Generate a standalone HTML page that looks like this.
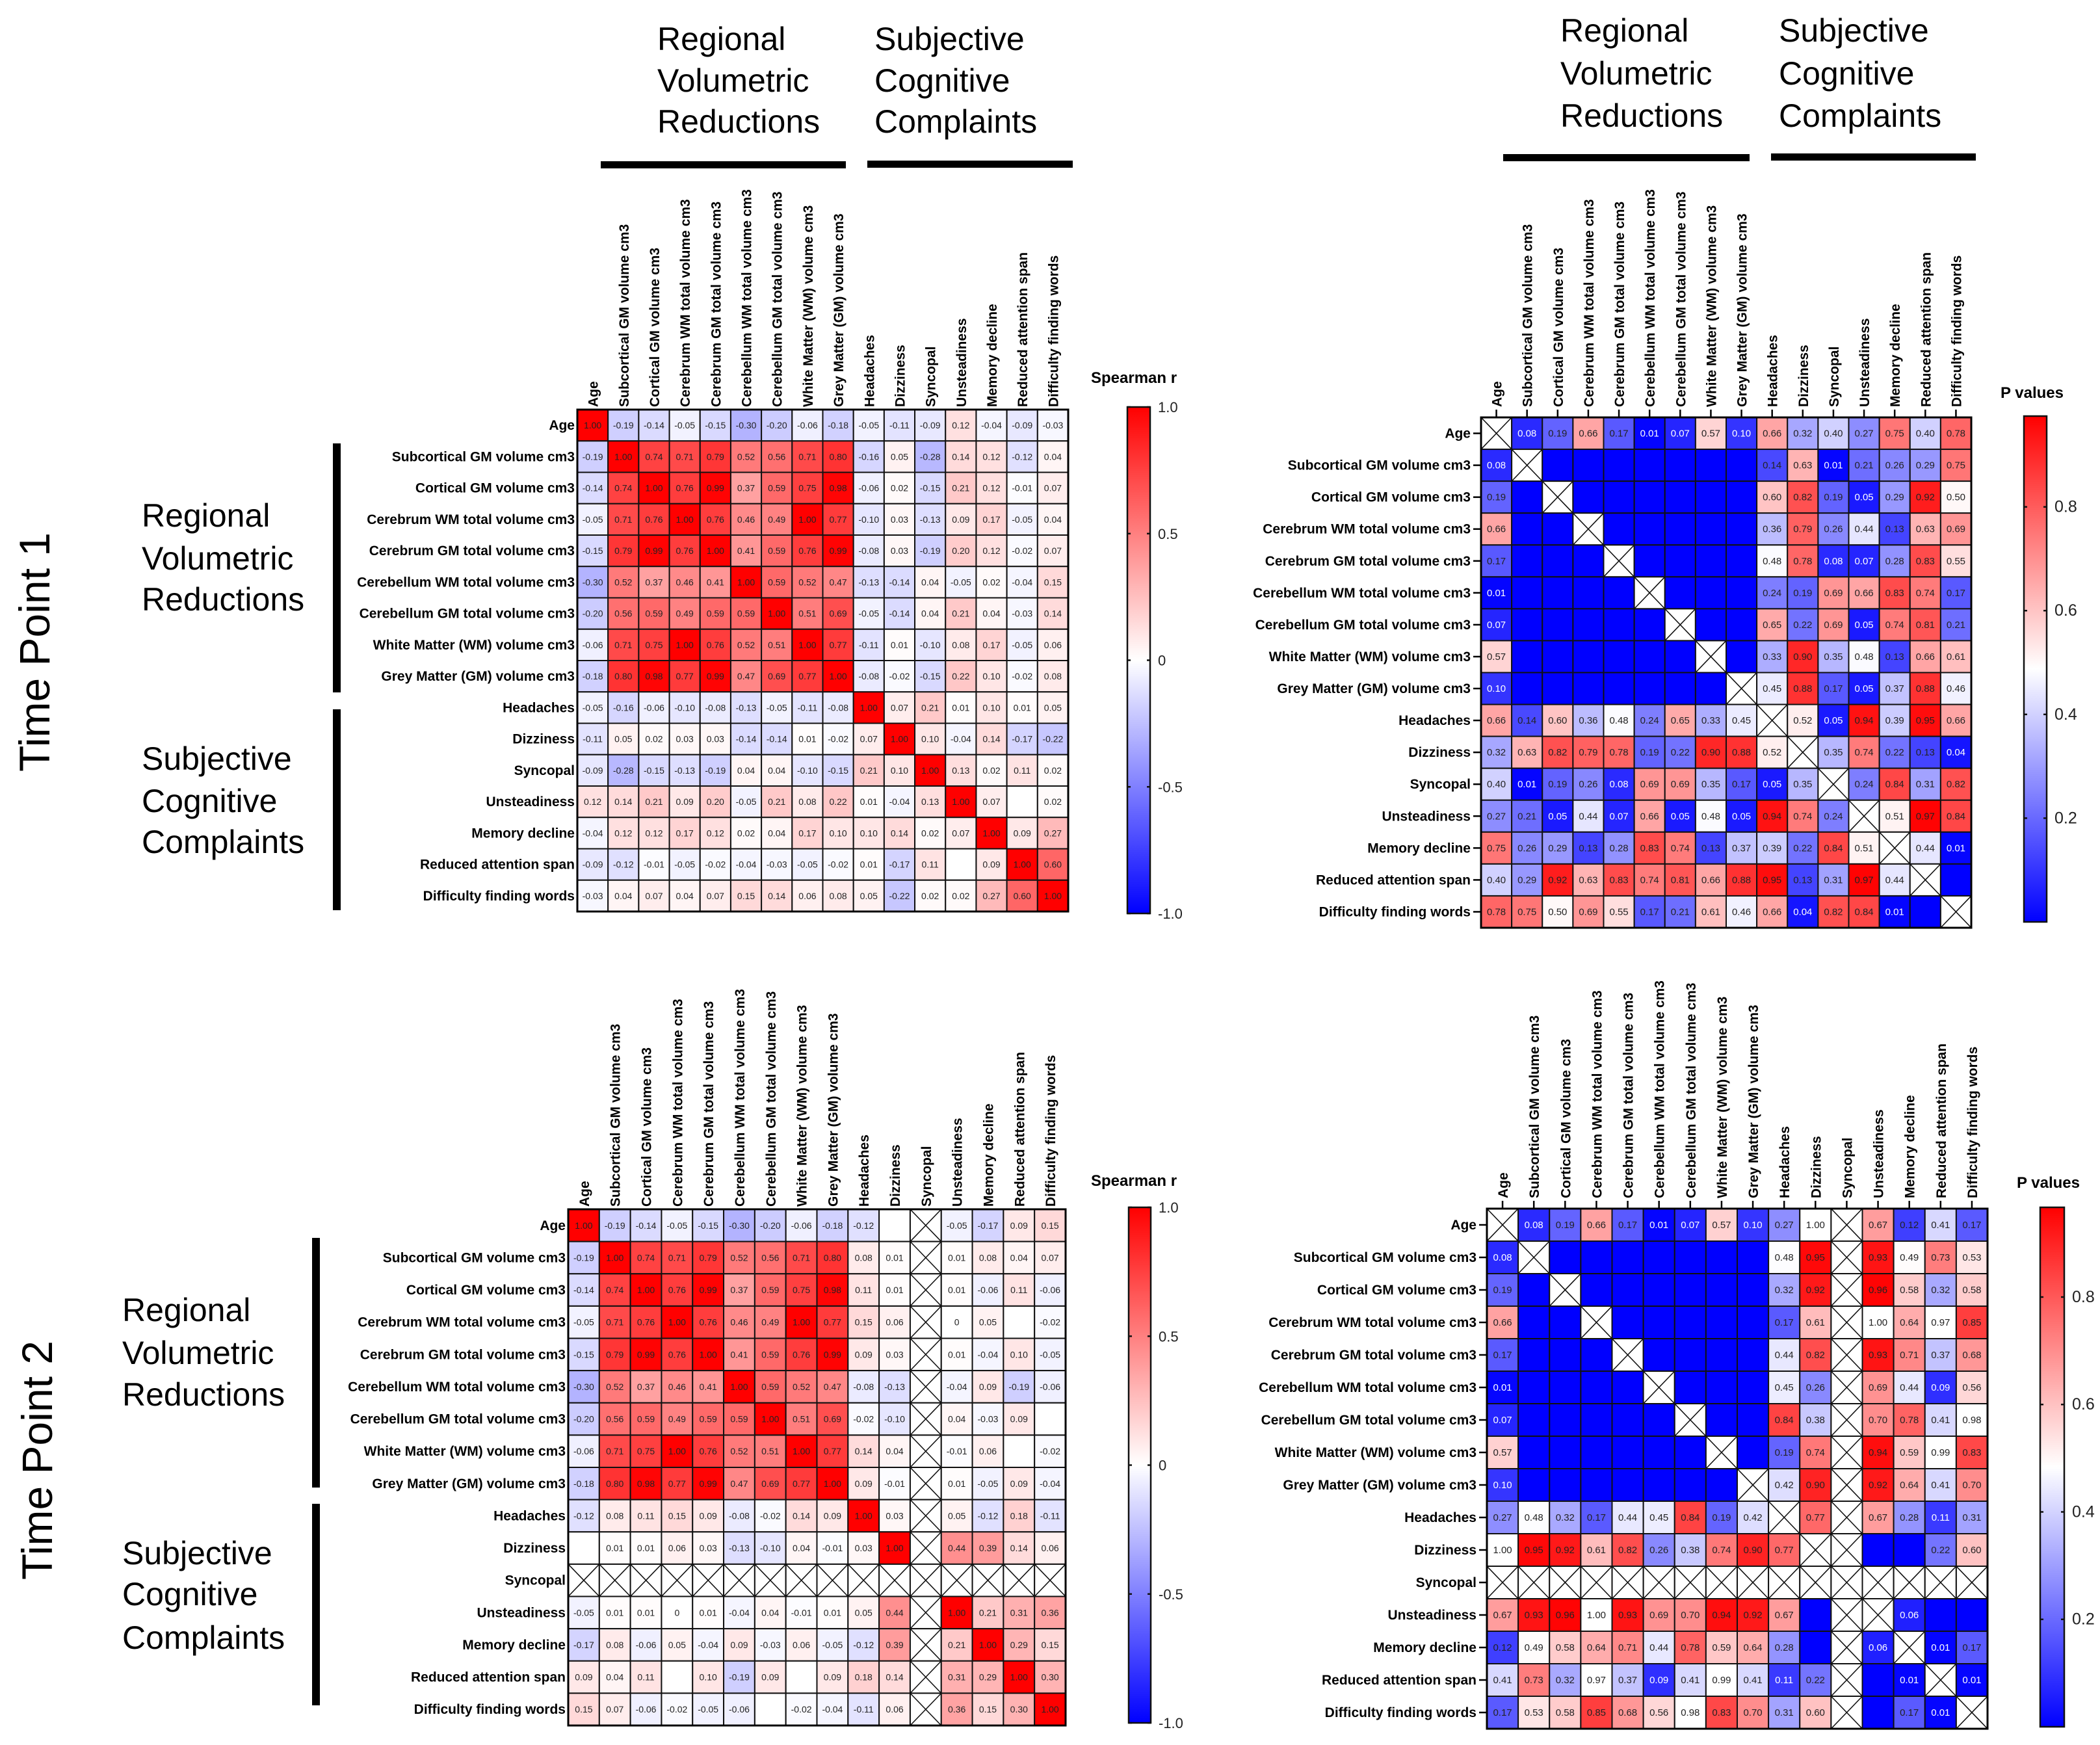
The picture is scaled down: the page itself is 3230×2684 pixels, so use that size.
<!DOCTYPE html>
<html><head><meta charset="utf-8">
<style>
html,body{margin:0;padding:0;background:#fff;}
svg{display:block;}
text{font-family:"Liberation Sans",Arial,sans-serif;}
</style></head>
<body>
<svg id="fig" width="3230" height="2684" viewBox="0 0 3230 2684" xmlns="http://www.w3.org/2000/svg">
  <rect x="0" y="0" width="3230" height="2684" fill="#fff"/>
  <g font-size="50" fill="#000">
    <text x="1011" y="77">Regional</text><text x="1011" y="141">Volumetric</text><text x="1011" y="204">Reductions</text>
    <text x="1345" y="77">Subjective</text><text x="1345" y="141">Cognitive</text><text x="1345" y="204">Complaints</text>
    <rect x="924" y="248" width="377" height="11" fill="#000"/>
    <rect x="1334" y="247" width="316" height="11" fill="#000"/>
  </g>
  <g font-size="50" fill="#000">
    <text x="2400" y="64">Regional</text><text x="2400" y="130">Volumetric</text><text x="2400" y="195">Reductions</text>
    <text x="2736" y="64">Subjective</text><text x="2736" y="130">Cognitive</text><text x="2736" y="195">Complaints</text>
    <rect x="2312" y="237" width="379" height="11" fill="#000"/>
    <rect x="2724" y="236" width="315" height="11" fill="#000"/>
  </g>
  <text transform="translate(76,1003) rotate(-90)" text-anchor="middle" font-size="66">Time Point 1</text>
  <g font-size="50">
    <text x="218" y="810">Regional</text><text x="218" y="876">Volumetric</text><text x="218" y="939">Reductions</text>
    <text x="218" y="1184">Subjective</text><text x="218" y="1249">Cognitive</text><text x="218" y="1312">Complaints</text>
    <rect x="512" y="682" width="12" height="383" fill="#000"/>
    <rect x="512" y="1091" width="12" height="309" fill="#000"/>
  </g>
  <text transform="translate(80,2246) rotate(-90)" text-anchor="middle" font-size="66">Time Point 2</text>
  <g font-size="50">
    <text x="188" y="2032">Regional</text><text x="188" y="2098">Volumetric</text><text x="188" y="2162">Reductions</text>
    <text x="188" y="2406">Subjective</text><text x="188" y="2469">Cognitive</text><text x="188" y="2536">Complaints</text>
    <rect x="480" y="1904" width="12" height="384" fill="#000"/>
    <rect x="480" y="2313" width="12" height="310" fill="#000"/>
  </g>
  <g id="panels"></g>
</svg>
<script>
const labels = ["Age","Subcortical GM volume cm3","Cortical GM volume cm3","Cerebrum WM total volume cm3","Cerebrum GM total volume cm3","Cerebellum WM total volume cm3","Cerebellum GM total volume cm3","White Matter (WM) volume cm3","Grey Matter (GM) volume cm3","Headaches","Dizziness","Syncopal","Unsteadiness","Memory decline","Reduced attention span","Difficulty finding words"];

const tp1R = [
"1.00 -0.19 -0.14 -0.05 -0.15 -0.30 -0.20 -0.06 -0.18 -0.05 -0.11 -0.09 0.12 -0.04 -0.09 -0.03",
"-0.19 1.00 0.74 0.71 0.79 0.52 0.56 0.71 0.80 -0.16 0.05 -0.28 0.14 0.12 -0.12 0.04",
"-0.14 0.74 1.00 0.76 0.99 0.37 0.59 0.75 0.98 -0.06 0.02 -0.15 0.21 0.12 -0.01 0.07",
"-0.05 0.71 0.76 1.00 0.76 0.46 0.49 1.00 0.77 -0.10 0.03 -0.13 0.09 0.17 -0.05 0.04",
"-0.15 0.79 0.99 0.76 1.00 0.41 0.59 0.76 0.99 -0.08 0.03 -0.19 0.20 0.12 -0.02 0.07",
"-0.30 0.52 0.37 0.46 0.41 1.00 0.59 0.52 0.47 -0.13 -0.14 0.04 -0.05 0.02 -0.04 0.15",
"-0.20 0.56 0.59 0.49 0.59 0.59 1.00 0.51 0.69 -0.05 -0.14 0.04 0.21 0.04 -0.03 0.14",
"-0.06 0.71 0.75 1.00 0.76 0.52 0.51 1.00 0.77 -0.11 0.01 -0.10 0.08 0.17 -0.05 0.06",
"-0.18 0.80 0.98 0.77 0.99 0.47 0.69 0.77 1.00 -0.08 -0.02 -0.15 0.22 0.10 -0.02 0.08",
"-0.05 -0.16 -0.06 -0.10 -0.08 -0.13 -0.05 -0.11 -0.08 1.00 0.07 0.21 0.01 0.10 0.01 0.05",
"-0.11 0.05 0.02 0.03 0.03 -0.14 -0.14 0.01 -0.02 0.07 1.00 0.10 -0.04 0.14 -0.17 -0.22",
"-0.09 -0.28 -0.15 -0.13 -0.19 0.04 0.04 -0.10 -0.15 0.21 0.10 1.00 0.13 0.02 0.11 0.02",
"0.12 0.14 0.21 0.09 0.20 -0.05 0.21 0.08 0.22 0.01 -0.04 0.13 1.00 0.07 _ 0.02",
"-0.04 0.12 0.12 0.17 0.12 0.02 0.04 0.17 0.10 0.10 0.14 0.02 0.07 1.00 0.09 0.27",
"-0.09 -0.12 -0.01 -0.05 -0.02 -0.04 -0.03 -0.05 -0.02 0.01 -0.17 0.11 _ 0.09 1.00 0.60",
"-0.03 0.04 0.07 0.04 0.07 0.15 0.14 0.06 0.08 0.05 -0.22 0.02 0.02 0.27 0.60 1.00"];

const tp1P = [
"x 0.08 0.19 0.66 0.17 0.01 0.07 0.57 0.10 0.66 0.32 0.40 0.27 0.75 0.40 0.78",
"0.08 x _ _ _ _ _ _ _ 0.14 0.63 0.01 0.21 0.26 0.29 0.75",
"0.19 _ x _ _ _ _ _ _ 0.60 0.82 0.19 0.05 0.29 0.92 0.50",
"0.66 _ _ x _ _ _ _ _ 0.36 0.79 0.26 0.44 0.13 0.63 0.69",
"0.17 _ _ _ x _ _ _ _ 0.48 0.78 0.08 0.07 0.28 0.83 0.55",
"0.01 _ _ _ _ x _ _ _ 0.24 0.19 0.69 0.66 0.83 0.74 0.17",
"0.07 _ _ _ _ _ x _ _ 0.65 0.22 0.69 0.05 0.74 0.81 0.21",
"0.57 _ _ _ _ _ _ x _ 0.33 0.90 0.35 0.48 0.13 0.66 0.61",
"0.10 _ _ _ _ _ _ _ x 0.45 0.88 0.17 0.05 0.37 0.88 0.46",
"0.66 0.14 0.60 0.36 0.48 0.24 0.65 0.33 0.45 x 0.52 0.05 0.94 0.39 0.95 0.66",
"0.32 0.63 0.82 0.79 0.78 0.19 0.22 0.90 0.88 0.52 x 0.35 0.74 0.22 0.13 0.04",
"0.40 0.01 0.19 0.26 0.08 0.69 0.69 0.35 0.17 0.05 0.35 x 0.24 0.84 0.31 0.82",
"0.27 0.21 0.05 0.44 0.07 0.66 0.05 0.48 0.05 0.94 0.74 0.24 x 0.51 0.97 0.84",
"0.75 0.26 0.29 0.13 0.28 0.83 0.74 0.13 0.37 0.39 0.22 0.84 0.51 x 0.44 0.01",
"0.40 0.29 0.92 0.63 0.83 0.74 0.81 0.66 0.88 0.95 0.13 0.31 0.97 0.44 x _",
"0.78 0.75 0.50 0.69 0.55 0.17 0.21 0.61 0.46 0.66 0.04 0.82 0.84 0.01 _ x"];

const tp2R = [
"1.00 -0.19 -0.14 -0.05 -0.15 -0.30 -0.20 -0.06 -0.18 -0.12 _ x -0.05 -0.17 0.09 0.15",
"-0.19 1.00 0.74 0.71 0.79 0.52 0.56 0.71 0.80 0.08 0.01 x 0.01 0.08 0.04 0.07",
"-0.14 0.74 1.00 0.76 0.99 0.37 0.59 0.75 0.98 0.11 0.01 x 0.01 -0.06 0.11 -0.06",
"-0.05 0.71 0.76 1.00 0.76 0.46 0.49 1.00 0.77 0.15 0.06 x 0 0.05 _ -0.02",
"-0.15 0.79 0.99 0.76 1.00 0.41 0.59 0.76 0.99 0.09 0.03 x 0.01 -0.04 0.10 -0.05",
"-0.30 0.52 0.37 0.46 0.41 1.00 0.59 0.52 0.47 -0.08 -0.13 x -0.04 0.09 -0.19 -0.06",
"-0.20 0.56 0.59 0.49 0.59 0.59 1.00 0.51 0.69 -0.02 -0.10 x 0.04 -0.03 0.09 _",
"-0.06 0.71 0.75 1.00 0.76 0.52 0.51 1.00 0.77 0.14 0.04 x -0.01 0.06 _ -0.02",
"-0.18 0.80 0.98 0.77 0.99 0.47 0.69 0.77 1.00 0.09 -0.01 x 0.01 -0.05 0.09 -0.04",
"-0.12 0.08 0.11 0.15 0.09 -0.08 -0.02 0.14 0.09 1.00 0.03 x 0.05 -0.12 0.18 -0.11",
"_ 0.01 0.01 0.06 0.03 -0.13 -0.10 0.04 -0.01 0.03 1.00 x 0.44 0.39 0.14 0.06",
"x x x x x x x x x x x x x x x x",
"-0.05 0.01 0.01 0 0.01 -0.04 0.04 -0.01 0.01 0.05 0.44 x 1.00 0.21 0.31 0.36",
"-0.17 0.08 -0.06 0.05 -0.04 0.09 -0.03 0.06 -0.05 -0.12 0.39 x 0.21 1.00 0.29 0.15",
"0.09 0.04 0.11 _ 0.10 -0.19 0.09 _ 0.09 0.18 0.14 x 0.31 0.29 1.00 0.30",
"0.15 0.07 -0.06 -0.02 -0.05 -0.06 _ -0.02 -0.04 -0.11 0.06 x 0.36 0.15 0.30 1.00"];

const tp2P = [
"x 0.08 0.19 0.66 0.17 0.01 0.07 0.57 0.10 0.27 1.00 x 0.67 0.12 0.41 0.17",
"0.08 x _ _ _ _ _ _ _ 0.48 0.95 x 0.93 0.49 0.73 0.53",
"0.19 _ x _ _ _ _ _ _ 0.32 0.92 x 0.96 0.58 0.32 0.58",
"0.66 _ _ x _ _ _ _ _ 0.17 0.61 x 1.00 0.64 0.97 0.85",
"0.17 _ _ _ x _ _ _ _ 0.44 0.82 x 0.93 0.71 0.37 0.68",
"0.01 _ _ _ _ x _ _ _ 0.45 0.26 x 0.69 0.44 0.09 0.56",
"0.07 _ _ _ _ _ x _ _ 0.84 0.38 x 0.70 0.78 0.41 0.98",
"0.57 _ _ _ _ _ _ x _ 0.19 0.74 x 0.94 0.59 0.99 0.83",
"0.10 _ _ _ _ _ _ _ x 0.42 0.90 x 0.92 0.64 0.41 0.70",
"0.27 0.48 0.32 0.17 0.44 0.45 0.84 0.19 0.42 x 0.77 x 0.67 0.28 0.11 0.31",
"1.00 0.95 0.92 0.61 0.82 0.26 0.38 0.74 0.90 0.77 x x _ _ 0.22 0.60",
"x x x x x x x x x x x x x x x x",
"0.67 0.93 0.96 1.00 0.93 0.69 0.70 0.94 0.92 0.67 _ x x 0.06 _ _",
"0.12 0.49 0.58 0.64 0.71 0.44 0.78 0.59 0.64 0.28 _ x 0.06 x 0.01 0.17",
"0.41 0.73 0.32 0.97 0.37 0.09 0.41 0.99 0.41 0.11 0.22 x _ 0.01 x 0.01",
"0.17 0.53 0.58 0.85 0.68 0.56 0.98 0.83 0.70 0.31 0.60 x _ 0.17 0.01 x"];

const rTicks = [1.0, 0.5, 0, -0.5, -1.0];
const rTickLabels = ["1.0","0.5","0","-0.5","-1.0"];
const pTicks = [0.8, 0.6, 0.4, 0.2];
const pTickLabels = ["0.8","0.6","0.4","0.2"];

const NS = "http://www.w3.org/2000/svg";
function mk(tag, attrs, parent){ const e=document.createElementNS(NS,tag); for(const k in attrs) e.setAttribute(k,attrs[k]); if(parent) parent.appendChild(e); return e; }

function colR(v){ const t=Math.max(-1,Math.min(1,v));
  if(t>=0){const c=Math.round(255*(1-t));return `rgb(255,${c},${c})`;}
  const c=Math.round(255*(1+t));return `rgb(${c},${c},255)`; }
function colPf(max){ return function(v){ const t=v/max; if(t>1.0001) return "#fff";
  if(t<0.5){const c=Math.round(255*t/0.5);return `rgb(${c},${c},255)`;}
  const c=Math.round(255*(1-(t-0.5)/0.5));return `rgb(255,${c},${c})`; }; }

function panel(name, rows, o){
  const g = mk("g", {}, document.getElementById("panels"));
  
  
  const n = labels.length;
  const cw = (o.x1-o.x0)/n, ch = (o.y1-o.y0)/n;
  const X = i => o.x0 + i*cw, Y = j => o.y0 + j*ch;
  const color = o.type==="r" ? colR : colPf(o.max);
  rows.forEach((row, j) => {
    row.split(" ").forEach((tok, i) => {
      const x=X(i), y=Y(j);
      if(tok==="x"){
        const r = mk("rect",{x:x,y:y,width:cw,height:ch,fill:"#fff",stroke:"#111","stroke-width":2},g);
        
        
        mk("line",{x1:x,y1:y,x2:x+cw,y2:y+ch,stroke:"#111","stroke-width":1.6},g);
        mk("line",{x1:x+cw,y1:y,x2:x,y2:y+ch,stroke:"#111","stroke-width":1.6},g);
        return;
      }
      const v = tok==="_" ? 0 : parseFloat(tok);
      const r = mk("rect",{x:x,y:y,width:cw,height:ch,fill:color(v),stroke:"#111","stroke-width":2},g);
      
      
      if(tok!=="_"){
        const fill = (o.type==="p" && v<0.12) ? "#fff" : "#222";
        const t = mk("text",{x:x+cw/2,y:y+ch/2+5,"text-anchor":"middle","font-size":o.type==="r"?14:15,fill:fill},g);
        t.textContent = tok;
        
        
      }
    });
  });
  mk("rect",{x:o.x0,y:o.y0,width:o.x1-o.x0,height:o.y1-o.y0,fill:"none",stroke:"#000","stroke-width":3},g);
  const tk = o.type==="p" ? 12 : 0;
  labels.forEach((lab,k)=>{
    const t = mk("text",{x:o.x0-4-tk,y:Y(k)+ch/2+7,"text-anchor":"end","font-size":21,"font-weight":"bold"},g);
    t.textContent = lab;
    
    
    const cx = X(k)+cw/2+8;
    const c = mk("text",{transform:`translate(${cx},${o.y0-4-tk}) rotate(-90)`,"font-size":21,"font-weight":"bold"},g);
    c.textContent = lab;
    
    
    if(tk){
      mk("line",{x1:o.x0-tk,y1:Y(k)+ch/2,x2:o.x0,y2:Y(k)+ch/2,stroke:"#000","stroke-width":2.5},g);
      mk("line",{x1:X(k)+cw/2,y1:o.y0-tk,x2:X(k)+cw/2,y2:o.y0,stroke:"#000","stroke-width":2.5},g);
    }
  });
  const cb = o.cb;
  const gid = name+"-grad";
  const defs = mk("defs",{},g);
  const lg = mk("linearGradient",{id:gid,x1:0,y1:0,x2:0,y2:1},defs);
  const steps=20;
  for(let s=0;s<=steps;s++){
    const frac=s/steps;
    const v = o.type==="r" ? 1-2*frac : o.max*(1-frac);
    mk("stop",{offset:frac,"stop-color":color(Math.min(v,o.type==="r"?1:o.max))},lg);
  }
  const bar = mk("rect",{x:cb.x0,y:cb.y0,width:cb.x1-cb.x0,height:cb.y1-cb.y0,fill:`url(#${gid})`,stroke:"#111","stroke-width":2.5},g);
  
  
  const vmin = o.type==="r" ? -1 : 0, vmax = o.type==="r" ? 1 : o.max;
  const cy = v => cb.y1 - (v-vmin)/(vmax-vmin)*(cb.y1-cb.y0);
  const ticks = o.type==="r" ? rTicks : pTicks;
  const tl = o.type==="r" ? rTickLabels : pTickLabels;
  ticks.forEach((v,k)=>{
    const y=cy(v);
    mk("line",{x1:cb.x0,y1:y,x2:cb.x0+5,y2:y,stroke:"#111","stroke-width":2.5},g);
    mk("line",{x1:cb.x1-5,y1:y,x2:cb.x1,y2:y,stroke:"#111","stroke-width":2.5},g);
    const t = mk("text",{x:cb.x1+12,y:y+8,"font-size":o.type==="r"?22:25,fill:"#222"},g);
    t.textContent = tl[k];
    
    
  });
  const ttl = mk("text",{x:cb.tx,y:cb.ty,"font-size":24,"font-weight":"bold"},g);
  ttl.textContent = o.type==="r" ? "Spearman r" : "P values";
  
  
}

panel("tp1-spearman-heatmap", tp1R, {type:"r",x0:888,x1:1643,y0:630,y1:1402,cb:{x0:1734,x1:1769,y0:626,y1:1405,tx:1678,ty:589}});
panel("tp1-pvalue-heatmap", tp1P, {type:"p",max:0.975,x0:2278,x1:3032,y0:642,y1:1427,cb:{x0:3113,x1:3148,y0:640,y1:1418,tx:3077,ty:612}});
panel("tp2-spearman-heatmap", tp2R, {type:"r",x0:874,x1:1639,y0:1860,y1:2654,cb:{x0:1736,x1:1770,y0:1857,y1:2650,tx:1678,ty:1824}});
panel("tp2-pvalue-heatmap", tp2P, {type:"p",max:0.967,x0:2287,x1:3057,y0:1859,y1:2659,cb:{x0:3138,x1:3175,y0:1857,y1:2656,tx:3102,ty:1827}});
</script>
</body></html>
